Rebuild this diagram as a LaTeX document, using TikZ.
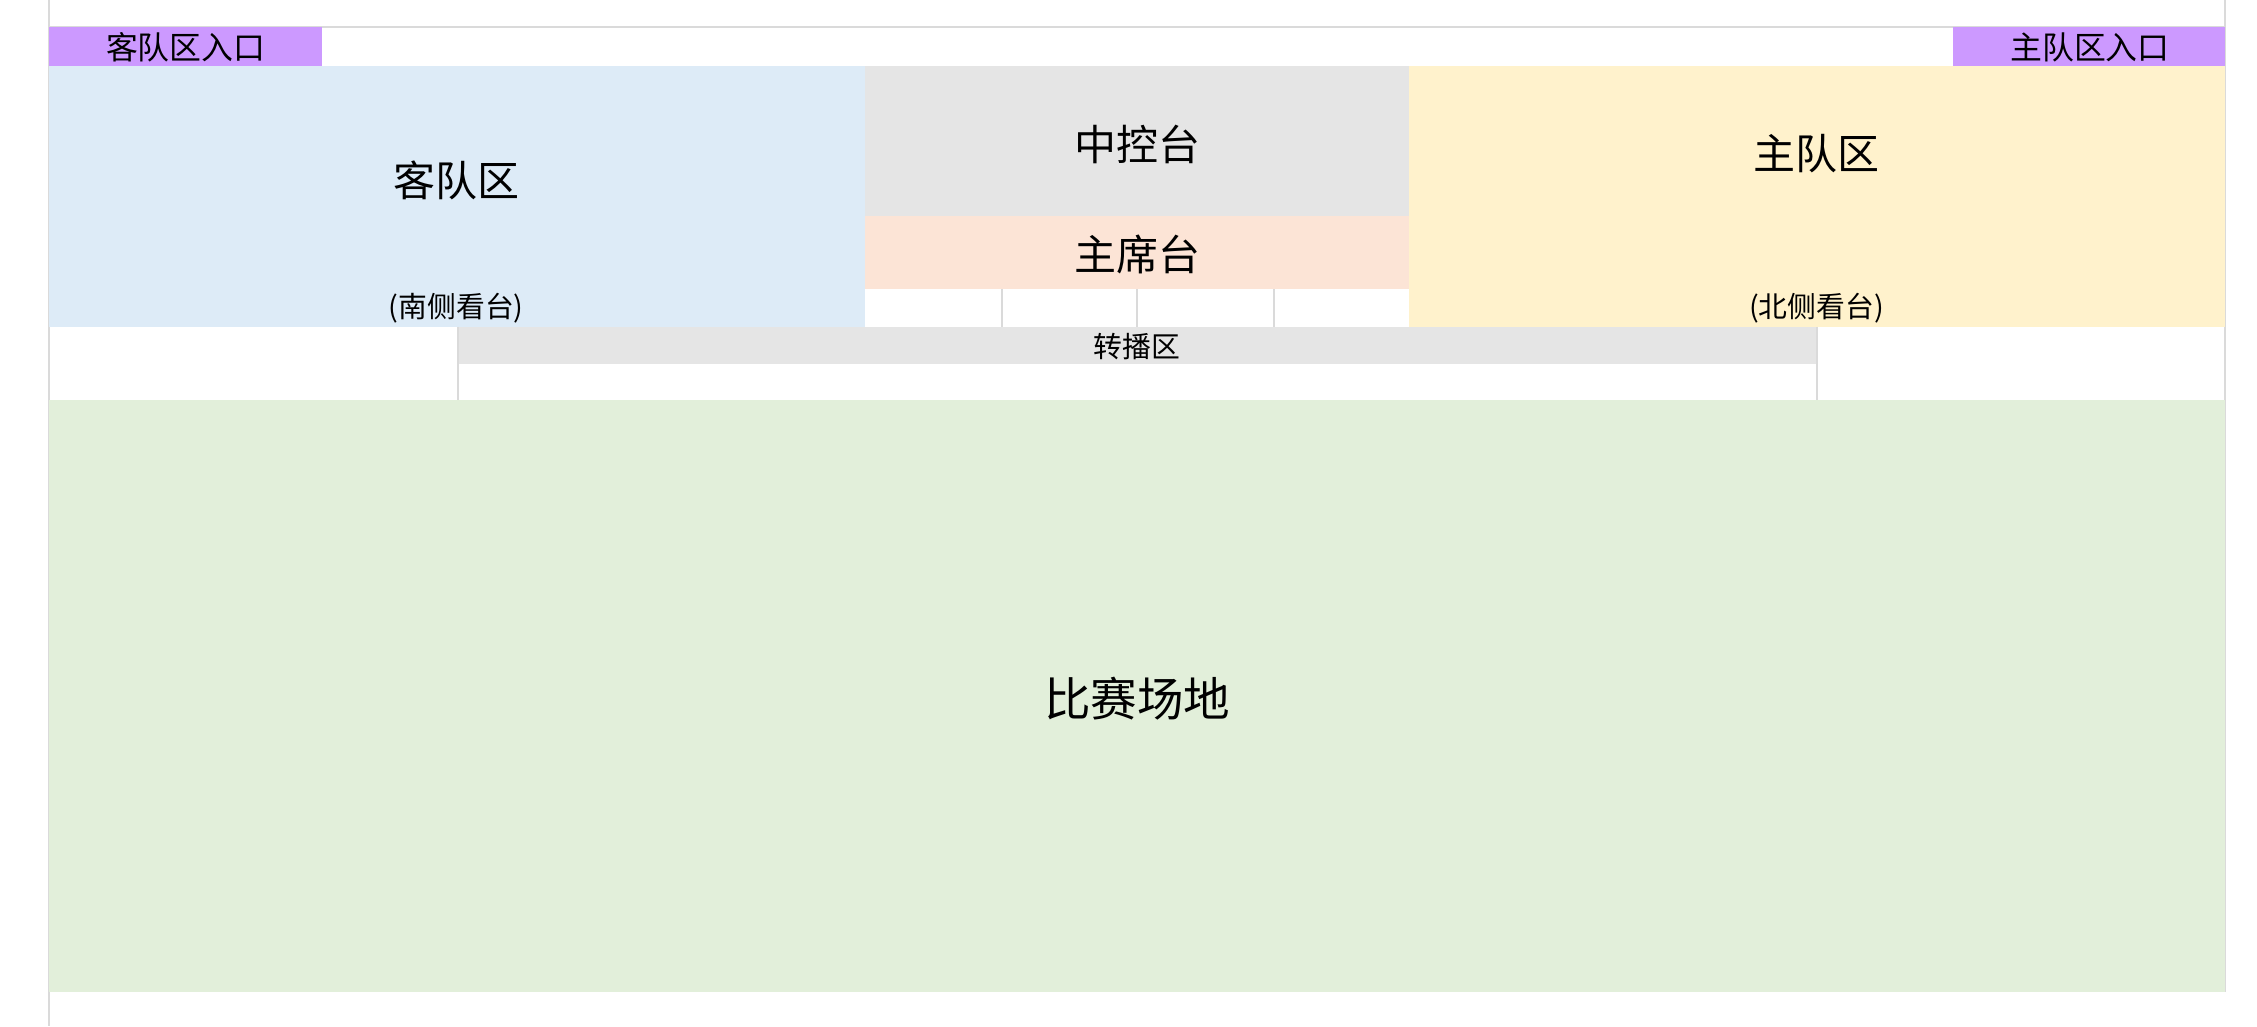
\documentclass[tikz,border=0pt]{standalone}
\usepackage{fontspec}
\setmainfont{Noto Sans CJK SC}
\definecolor{eingang}{RGB}{204,153,255}
\definecolor{kedui}{RGB}{221,235,247}
\definecolor{zhongkong}{RGB}{229,229,229}
\definecolor{zhuxi}{RGB}{252,228,214}
\definecolor{zhudui}{RGB}{255,242,204}
\definecolor{changdi}{RGB}{226,239,218}
\definecolor{gitter}{RGB}{218,218,218}

\begin{document}
\begin{tikzpicture}[
    gross/.style={font=\fontsize{8.3}{10}\selectfont},
    riesig/.style={font=\fontsize{9.2}{11}\selectfont},
    mittel/.style={font=\fontsize{6.3}{8}\selectfont},
    klein/.style={font=\fontsize{5.7}{7}\selectfont},
    gitterlinie/.style={draw=gitter, line width=.4pt},
]
        \useasboundingbox (0,0) rectangle (15.68,-7.13);
        % Rahmen
        \draw[gitterlinie]
        (0.34,0) -- (0.34,-7.13)
        (15.46,0) -- (15.46,-6.89)
        (0.34,-.185) -- (15.46,-.185)
        ;
        % Eingaenge
        \fill[eingang] (0.34,-.19) rectangle (2.24,-.46);
        \fill[eingang] (13.57,-.19) rectangle (15.46,-.46);
        % Tribuenen
        \fill[kedui] (0.34,-.46) rectangle (6.01,-2.27);
        \fill[zhongkong] (6.01,-.46) rectangle (9.79,-1.50);
        \fill[zhuxi] (6.01,-1.50) rectangle (9.79,-2.01);
        \fill[zhudui] (9.79,-.46) rectangle (15.46,-2.27);
        % Zwischenreihe und Spielfeld
        \fill[zhongkong] (3.18,-2.27) rectangle (12.62,-2.53);
        \fill[changdi] (0.34,-2.78) rectangle (15.46,-6.89);
        % Zellen
        \draw[gitterlinie]
        (6.96,-2.01) -- (6.96,-2.27)
        (7.90,-2.01) -- (7.90,-2.27)
        (8.85,-2.01) -- (8.85,-2.27)
        (3.18,-2.27) -- (3.18,-2.78)
        (12.62,-2.27) -- (12.62,-2.78)
        ;
        % Beschriftungen
        \node[mittel] (keduirukou) at (1.29,-.33) {客队区入口};
        \node[mittel] (zhuduirukou) at (14.52,-.33) {主队区入口};
        \node[gross] (keduiqu) at (3.17,-1.25) {客队区};
        \node[klein] (nance) at (3.17,-2.14) {(南侧看台)};
        \node[gross] (zhongkongtai) at (7.90,-1.00) {中控台};
        \node[gross] (zhuxitai) at (7.90,-1.77) {主席台};
        \node[gross] (zhuduiqu) at (12.62,-1.07) {主队区};
        \node[klein] (beice) at (12.62,-2.14) {(北侧看台)};
        \node[klein] (zhuanbo) at (7.90,-2.41) {转播区};
        \node[riesig] (bisai) at (7.90,-4.85) {比赛场地};
    \end{tikzpicture}
\end{document}
